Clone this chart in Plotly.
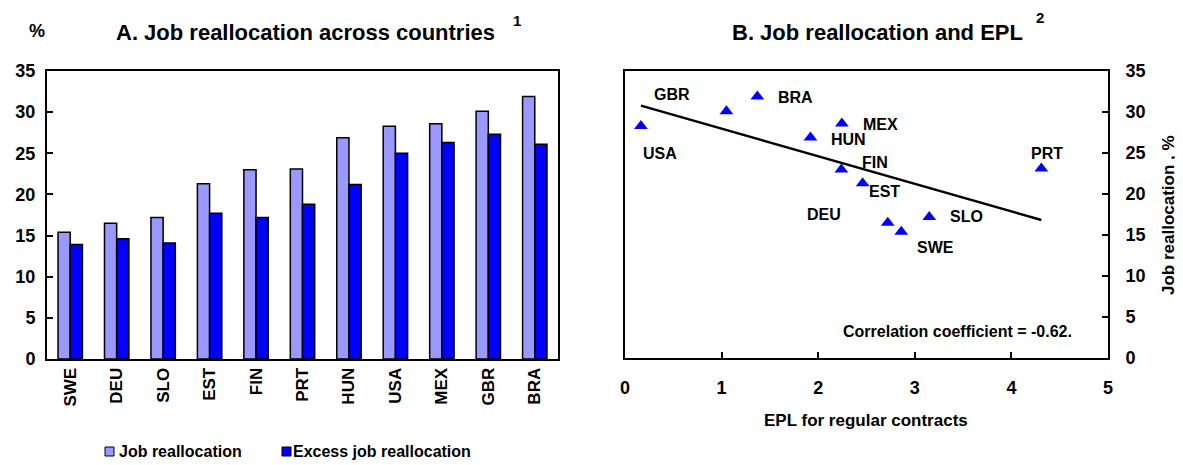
import numpy as np
import plotly.graph_objects as go

# ---- data ----
countries = ["SWE", "DEU", "SLO", "EST", "FIN", "PRT", "HUN", "USA", "MEX", "GBR", "BRA"]
job_realloc = [15.4, 16.5, 17.2, 21.3, 23.0, 23.1, 26.9, 28.3, 28.6, 30.1, 31.9]
excess_realloc = [13.9, 14.6, 14.1, 17.7, 17.2, 18.8, 21.2, 25.0, 26.3, 27.3, 26.1]
epl_regular = [2.86, 2.72, 3.15, 2.46, 2.24, 4.31, 1.92, 0.165, 2.245, 1.05, 1.37]
y_ticks = [0, 5, 10, 15, 20, 25, 30, 35]
x_ticks_b = [0, 1, 2, 3, 4, 5]
series_names = ["Job reallocation", "Excess job reallocation"]
series_colors = ["#9999FF", "#0000FF"]

# the page places the figure 8px in from the top-left corner
OFF = 8
W, H = 1183 - OFF, 465 - OFF
FONT = "Liberation Sans, Arial, sans-serif"


def px_x(p):
    return (p - OFF) / W


def px_y(p):
    return 1 - (p - OFF) / H


# label offsets (pixels) for scatter labels: (xshift, yshift)
label_style = {
    "USA": (19, -28), "GBR": (-54, 17), "BRA": (38, -1),
    "HUN": (38, -2), "MEX": (39, -1), "FIN": (34, 7),
    "EST": (22, -8), "DEU": (-64, 8), "SWE": (34, -16),
    "SLO": (37, 0), "PRT": (6, 15),
}

fig = go.Figure()

for name, vals, col in zip(series_names, [job_realloc, excess_realloc], series_colors):
    fig.add_trace(go.Bar(
        x=countries, y=vals, name=name,
        marker=dict(color=col, line=dict(color="black", width=1.5)),
        xaxis="x", yaxis="y", showlegend=False,
    ))

# scatter
fig.add_trace(go.Scatter(
    x=epl_regular, y=job_realloc, mode="markers",
    marker=dict(symbol="triangle-up", size=12, color="#0000FF"),
    xaxis="x2", yaxis="y2", showlegend=False, hoverinfo="skip",
))

# regression line
slope, intercept = np.polyfit(epl_regular, job_realloc, 1)
xl = np.array([min(epl_regular), max(epl_regular)])
fig.add_trace(go.Scatter(
    x=xl, y=slope * xl + intercept, mode="lines",
    line=dict(color="black", width=2.5),
    xaxis="x2", yaxis="y2", showlegend=False, hoverinfo="skip",
))

annotations = []
for c, xv, yv in zip(countries, epl_regular, job_realloc):
    xs, ys = label_style[c]
    annotations.append(dict(
        x=xv, y=yv, xref="x2", yref="y2", text=c,
        showarrow=False, xshift=xs, yshift=ys, xanchor="center", yanchor="middle",
        font=dict(size=16, color="black", family=FONT, weight="bold"),
    ))


def pann(x, y, text, size, angle=0, xanchor="center"):
    return dict(x=px_x(x), y=px_y(y), xref="paper", yref="paper", text=text,
                showarrow=False, xanchor=xanchor, yanchor="middle", textangle=angle,
                font=dict(size=size, color="black", family=FONT, weight="bold"))


annotations += [
    pann(305, 33, "A. Job reallocation across countries", 22),
    pann(517, 20, "1", 15),
    pann(37, 31, "%", 18),
    pann(877, 33, "B. Job reallocation and EPL", 22),
    pann(1040, 17, "2", 15),
    pann(866, 420, "EPL for regular contracts", 17),
    pann(1168, 215, "Job reallocation , %", 17, angle=-90),
    pann(957, 331, "Correlation coefficient = -0.62.", 16),
    # legend texts
    pann(117, 451, series_names[0], 16, xanchor="left"),
    pann(291, 451, series_names[1], 16, xanchor="left"),
]

shapes = []
for x0, col in zip([105, 282], series_colors):
    shapes.append(dict(type="rect", xref="paper", yref="paper",
                       x0=px_x(x0), x1=px_x(x0 + 9), y0=px_y(456), y1=px_y(447),
                       fillcolor=col, line=dict(color="black", width=1)))

tickfont_b = dict(size=18, color="black", family=FONT, weight="bold")
axis_common = dict(showline=True, linecolor="black", linewidth=2, mirror=True,
                   showgrid=False, zeroline=False, automargin=False)

fig.update_layout(
    width=W, height=H,
    margin=dict(l=0, r=0, t=0, b=0),
    paper_bgcolor="white", plot_bgcolor="white",
    barmode="group", bargap=0.475, bargroupgap=0,
    font=dict(family=FONT, color="black"),
    showlegend=False,
    xaxis=dict(domain=[px_x(47), px_x(558)], anchor="y", ticks="",
               tickangle=-90, tickfont=dict(size=17, color="black", family=FONT, weight="bold"),
               **axis_common),
    yaxis=dict(domain=[px_y(359), px_y(71)], anchor="x", range=[0, 35],
               tickvals=y_ticks, ticks="inside", ticklen=6, tickwidth=2,
               tickcolor="black", tickfont=tickfont_b, ticklabelstandoff=6, **axis_common),
    xaxis2=dict(domain=[px_x(625), px_x(1108)], anchor="y2", range=[0, 5],
                tickvals=x_ticks_b, ticks="inside", ticklen=6, tickwidth=2,
                tickcolor="black", tickfont=tickfont_b, ticklabelstandoff=12, **axis_common),
    yaxis2=dict(domain=[px_y(358), px_y(71)], anchor="x2", range=[0, 35], side="right",
                tickvals=y_ticks, ticks="inside", ticklen=6, tickwidth=2,
                tickcolor="black", tickfont=tickfont_b, ticklabelstandoff=12, **axis_common),
    annotations=annotations,
    shapes=shapes,
)

fig.write_html("out.html")
